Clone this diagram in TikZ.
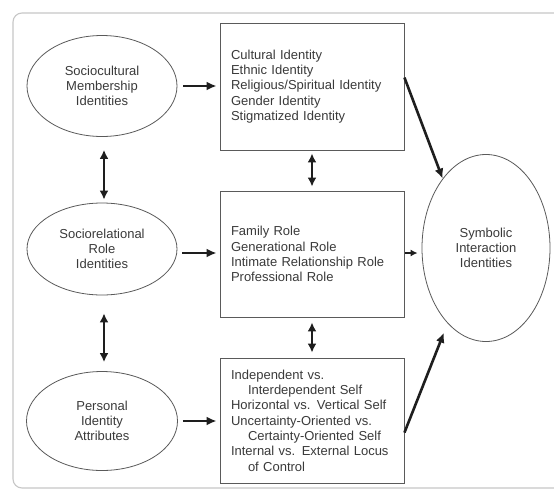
\documentclass[tikz,border=0pt]{standalone}
\usepackage{fontspec}
\setmainfont{Liberation Sans}
\usetikzlibrary{shapes.geometric,arrows.meta,calc}
\definecolor{txt}{HTML}{3A3A3A}
\definecolor{edge}{HTML}{5A5A5A}
\definecolor{arrc}{HTML}{1E1E1E}
\begin{document}
\begin{tikzpicture}[x=1pt,y=-1pt,
  every node/.style={font=\fontsize{13}{15.3}\selectfont, text=txt},
  oval/.style={ellipse, draw=edge, line width=0.8pt, inner sep=0pt, align=center},
  listbox/.style={rectangle, draw=edge, line width=0.9pt, minimum width=184pt, text width=162pt, inner xsep=11pt, align=left},
  arr/.style={draw=arrc, line width=2.6pt, -{Latex[length=10pt,width=9pt]}},
  darr/.style={draw=arrc, line width=2.6pt, {Latex[length=9pt,width=9pt]}-{Latex[length=9pt,width=9pt]}},
  thinarr/.style={draw=arrc, line width=1.8pt, -{Latex[length=7pt,width=7pt]}}
]
\useasboundingbox (0,0) rectangle (554,490);
\fill[white] (0,0) rectangle (554,490);
\draw[black!22, line width=1.1pt, rounded corners=9pt] (13,13) rectangle (580,488);

% ellipses
\node[oval, minimum width=150pt, minimum height=101pt] (e1) at (102,86) {Sociocultural\\Membership\\Identities};
\node[oval, minimum width=150pt, minimum height=92pt] (e2) at (102,249) {Sociorelational\\Role\\Identities};
\node[oval, minimum width=151pt, minimum height=99pt] (e3) at (102,421) {Personal\\Identity\\Attributes};
\node[oval, minimum width=128pt, minimum height=187pt] (sym) at (486,248) {Symbolic\\Interaction\\Identities};

% boxes
\node[listbox, minimum height=127pt] (b1) at (312,86.5) {Cultural Identity\\Ethnic Identity\\Religious/Spiritual Identity\\Gender Identity\\Stigmatized Identity};
\node[listbox, minimum height=126pt] (b2) at (312,254) {Family Role\\Generational Role\\Intimate Relationship Role\\Professional Role};
\node[listbox, minimum height=125pt] (b3) at (312,420.5) {Independent vs.\\\hspace*{17pt}Interdependent Self\\Horizontal vs. Vertical Self\\Uncertainty-Oriented vs.\\\hspace*{17pt}Certainty-Oriented Self\\Internal vs. External Locus\\\hspace*{17pt}of Control};

% horizontal arrows ellipse -> box
\draw[arr, shorten <=6pt, shorten >=3pt] (e1.east) -- (e1.east -| b1.west);
\draw[arr, shorten <=5pt, shorten >=3pt] ($(e2.east)+(0,4)$) -- ($(e2.east -| b2.west)+(0,4)$);
\draw[arr, shorten <=5pt, shorten >=3pt] (e3.east) -- (e3.east -| b3.west);

% vertical double arrows
\draw[darr, shorten <=13pt, shorten >=3pt] ($(e1.south)+(2,0)$) -- ($(e2.north)+(2,0)$);
\draw[darr, shorten <=18pt, shorten >=9pt] ($(e2.south)+(2,0)$) -- ($(e3.north)+(2,0)$);
\draw[darr, shorten <=3pt, shorten >=4pt] (b1.south) -- (b2.north);
\draw[darr, shorten <=5pt, shorten >=5pt] (b2.south) -- (b3.north);

% arrows to symbolic interaction
\draw[arr] ($(b1.north east)+(0,55)$) -- (sym.122);
\draw[thinarr, shorten <=1pt, shorten >=4pt] ($(b2.east)+(0,-1)$) -- ($(b2.east -| sym.west)+(0,-1)$);
\draw[arr, shorten >=10pt] ($(b3.north east)+(0,75)$) -- (sym.243);
\end{tikzpicture}
\end{document}
